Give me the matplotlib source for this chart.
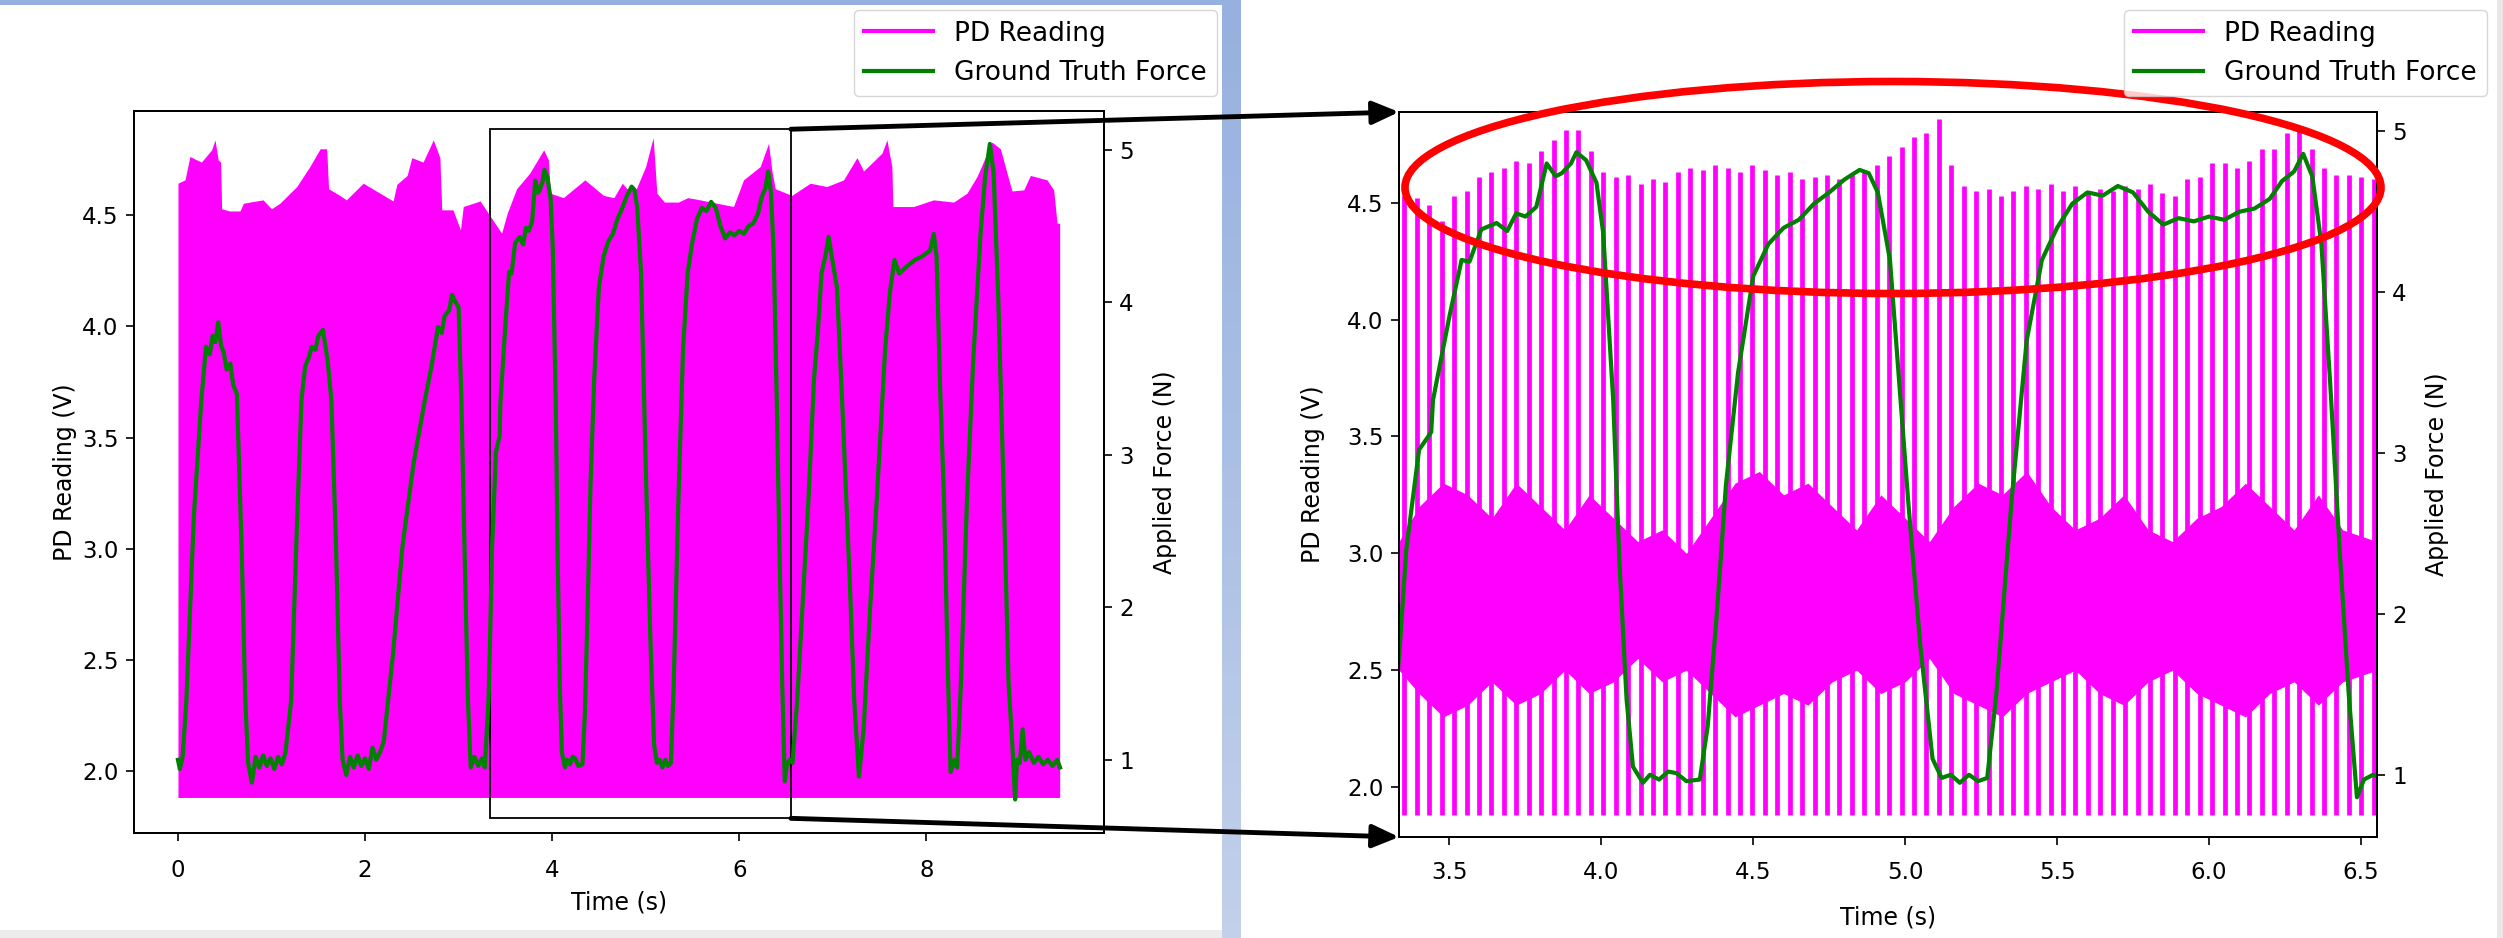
import numpy as np
import matplotlib.pyplot as plt
from matplotlib.patches import Rectangle, Ellipse, ConnectionPatch
from matplotlib.colors import LinearSegmentedColormap

W, H = 2503, 938
PINK = '#ff00ff'
GREEN = '#008000'

# ground truth force (N) vs time (s)
force_t = [0.00, 0.02, 0.05, 0.09, 0.17, 0.25, 0.30, 0.34, 0.37, 0.40, 0.43, 0.46, 0.49, 0.52,
           0.56, 0.59, 0.63, 0.68, 0.72, 0.75, 0.79, 0.83, 0.87, 0.91, 0.95, 0.99, 1.03, 1.07,
           1.11, 1.15, 1.21, 1.27, 1.32, 1.36, 1.40, 1.43, 1.47, 1.50, 1.55, 1.58, 1.60, 1.64,
           1.69, 1.73, 1.76, 1.80, 1.84, 1.88, 1.92, 1.96, 2.00, 2.04, 2.08, 2.12, 2.16, 2.20,
           2.30, 2.40, 2.52, 2.64, 2.71, 2.78, 2.82, 2.85, 2.90, 2.93, 2.97, 3.00, 3.03, 3.07,
           3.10, 3.13, 3.17, 3.21, 3.25, 3.28, 3.32, 3.336, 3.358, 3.40, 3.44, 3.446, 3.50, 3.54,
           3.566, 3.605, 3.655, 3.69, 3.72, 3.75, 3.786, 3.82, 3.85, 3.87, 3.90, 3.918, 3.95,
           3.984, 4.006, 4.039, 4.06, 4.083, 4.104, 4.137, 4.16, 4.19, 4.22, 4.247, 4.28, 4.324,
           4.35, 4.38, 4.41, 4.45, 4.50, 4.55, 4.60, 4.65, 4.70, 4.75, 4.80, 4.85, 4.88, 4.91,
           4.95, 5.01, 5.05, 5.09, 5.12, 5.15, 5.18, 5.21, 5.24, 5.27, 5.30, 5.35, 5.40, 5.45,
           5.50, 5.55, 5.60, 5.65, 5.70, 5.75, 5.80, 5.85, 5.90, 5.95, 6.00, 6.05, 6.10, 6.15,
           6.20, 6.24, 6.28, 6.31, 6.34, 6.37, 6.40, 6.43, 6.46, 6.487, 6.51, 6.54, 6.57, 6.62,
           6.74, 6.80, 6.84, 6.88, 6.92, 6.956, 6.99, 7.045, 7.10, 7.18, 7.23, 7.28, 7.33, 7.40,
           7.47, 7.56, 7.61, 7.66, 7.71, 7.78, 7.88, 7.95, 8.04, 8.08, 8.11, 8.15, 8.19, 8.23,
           8.26, 8.30, 8.33, 8.37, 8.435, 8.50, 8.58, 8.63, 8.68, 8.72, 8.77, 8.83, 8.88, 8.92,
           8.95, 8.97, 9.00, 9.03, 9.06, 9.10, 9.15, 9.20, 9.25, 9.30, 9.35, 9.40, 9.43]
force_n = [1.00, 0.94, 1.02, 1.39, 2.60, 3.36, 3.71, 3.66, 3.78, 3.74, 3.87, 3.72, 3.67, 3.56,
           3.60, 3.46, 3.40, 2.40, 1.39, 0.98, 0.85, 1.02, 0.95, 1.03, 0.96, 1.01, 0.94, 1.02,
           0.97, 1.05, 1.39, 2.50, 3.36, 3.58, 3.64, 3.71, 3.69, 3.78, 3.82, 3.70, 3.62, 3.36,
           2.40, 1.39, 1.00, 0.90, 1.02, 0.95, 1.03, 0.96, 1.01, 0.94, 1.08, 1.00, 1.05, 1.12,
           1.70, 2.40, 2.95, 3.36, 3.58, 3.84, 3.80, 3.91, 3.95, 4.05, 4.00, 3.97, 3.36, 2.20,
           1.39, 0.95, 1.02, 0.96, 1.01, 0.95, 1.39, 1.78, 2.40, 3.02, 3.13, 3.33, 3.85, 4.20,
           4.19, 4.39, 4.43, 4.38, 4.49, 4.47, 4.53, 4.80, 4.72, 4.74, 4.80, 4.87, 4.82,
           4.68, 4.37, 3.33, 2.30, 1.47, 1.05, 0.95, 1.00, 0.97, 1.02, 1.01, 0.96, 0.97,
           1.30, 2.00, 2.80, 3.50, 4.10, 4.30, 4.40, 4.45, 4.55, 4.62, 4.70, 4.76, 4.74, 4.62,
           4.20, 2.70, 1.80, 1.10, 0.98, 1.00, 0.95, 1.00, 0.96, 0.98, 1.50, 2.70, 3.70, 4.20,
           4.40, 4.55, 4.62, 4.60, 4.66, 4.62, 4.50, 4.42, 4.46, 4.44, 4.47, 4.45, 4.50, 4.52,
           4.58, 4.69, 4.75, 4.86, 4.72, 4.30, 3.40, 2.40, 1.50, 0.86, 0.97, 1.00, 0.98, 1.39,
           2.70, 3.50, 3.80, 4.19, 4.30, 4.43, 4.30, 4.10, 3.36, 2.20, 1.39, 0.89, 1.20, 2.00,
           2.70, 3.69, 4.06, 4.28, 4.19, 4.23, 4.28, 4.30, 4.34, 4.45, 4.30, 3.40, 2.70, 1.60,
           0.92, 1.00, 0.95, 1.50, 2.70, 3.60, 4.45, 4.83, 5.04, 4.85, 4.02, 2.70, 1.50, 1.10,
           0.74, 1.00, 0.98, 1.20, 1.00, 1.05, 0.98, 1.02, 0.97, 1.00, 0.96, 1.00, 0.95]

# PD reading, full run: upper envelope (V) of the dense trace
pd_env_t = [0.0, 0.075, 0.128, 0.25, 0.36, 0.396, 0.43, 0.456, 0.467, 0.55, 0.663, 0.70, 0.91,
            1.00, 1.09, 1.27, 1.41, 1.52, 1.59, 1.61, 1.73, 1.80, 1.98, 2.20, 2.30, 2.34, 2.45,
            2.50, 2.62, 2.73, 2.80, 2.82, 2.94, 3.02, 3.05, 3.23, 3.46, 3.52, 3.62, 3.76, 3.91,
            3.96, 3.98, 4.12, 4.35, 4.55, 4.66, 4.75, 4.80, 4.90, 5.00, 5.08, 5.12, 5.20, 5.35,
            5.45, 5.583, 5.939, 6.046, 6.225, 6.314, 6.350, 6.385, 6.563, 6.759, 6.937, 7.116,
            7.259, 7.330, 7.526, 7.579, 7.632, 7.643, 7.864, 8.078, 8.292, 8.435, 8.542, 8.702,
            8.792, 8.916, 9.042, 9.113, 9.291, 9.362, 9.398, 9.426]
pd_env_v = [4.645, 4.66, 4.765, 4.74, 4.795, 4.84, 4.75, 4.74, 4.53, 4.52, 4.52, 4.555, 4.57,
            4.53, 4.555, 4.63, 4.72, 4.80, 4.80, 4.62, 4.59, 4.57, 4.645, 4.59, 4.565, 4.64, 4.68,
            4.76, 4.74, 4.84, 4.76, 4.525, 4.525, 4.435, 4.54, 4.565, 4.42, 4.51, 4.62, 4.69, 4.795,
            4.75, 4.60, 4.58, 4.66, 4.59, 4.58, 4.645, 4.62, 4.62, 4.72, 4.85, 4.60, 4.56, 4.56,
            4.58, 4.57, 4.54, 4.66, 4.72, 4.825, 4.70, 4.62, 4.59, 4.645, 4.63, 4.66,
            4.76, 4.70, 4.78, 4.84, 4.72, 4.54, 4.54, 4.57, 4.56, 4.60, 4.675, 4.83,
            4.80, 4.61, 4.615, 4.68, 4.66, 4.615, 4.465, 4.465]
pd_floor = 1.88

# PD reading, zoomed window: one peak per modulation cycle
pd_cycle_start = 3.352
pd_cycle_period = 0.0409
pd_peaks = [4.53, 4.52, 4.49, 4.42, 4.53, 4.55, 4.61, 4.63, 4.65, 4.68, 4.67, 4.72, 4.77, 4.81,
            4.81, 4.72, 4.63, 4.61, 4.62, 4.58, 4.60, 4.59, 4.63, 4.65,
            4.64, 4.66, 4.65, 4.63, 4.66, 4.64, 4.62, 4.63, 4.60, 4.61, 4.62, 4.60, 4.62, 4.64,
            4.66, 4.70, 4.74, 4.78, 4.80, 4.86, 4.66, 4.57, 4.55, 4.56, 4.53, 4.55, 4.57, 4.56,
            4.58, 4.55, 4.57, 4.54, 4.56, 4.55, 4.57, 4.56, 4.58, 4.54,
            4.53, 4.60, 4.61, 4.67, 4.67, 4.65, 4.68, 4.73, 4.73, 4.80, 4.83, 4.73, 4.65, 4.62,
            4.62, 4.61, 4.60]
# dense middle band of the zoomed trace
pd_band_t = [3.334, 3.40, 3.48, 3.56, 3.64, 3.72, 3.80, 3.88, 3.96, 4.04, 4.12, 4.20, 4.28,
             4.36, 4.44, 4.52, 4.60, 4.68, 4.76, 4.84, 4.92, 5.00, 5.08, 5.16, 5.24, 5.32,
             5.40, 5.48, 5.56, 5.64, 5.72, 5.80, 5.88, 5.96, 6.04, 6.12, 6.20, 6.28, 6.36,
             6.44, 6.553]
pd_band_hi = [3.05, 3.20, 3.30, 3.25, 3.15, 3.30, 3.20, 3.10, 3.25, 3.15, 3.05, 3.10, 3.00,
              3.15, 3.30, 3.35, 3.25, 3.30, 3.20, 3.10, 3.25, 3.15, 3.05, 3.20, 3.30, 3.25,
              3.35, 3.20, 3.10, 3.15, 3.25, 3.10, 3.05, 3.15, 3.20, 3.30, 3.20, 3.10, 3.25,
              3.10, 3.05]
pd_band_lo = [2.50, 2.40, 2.30, 2.35, 2.45, 2.35, 2.40, 2.50, 2.40, 2.45, 2.55, 2.45, 2.50,
              2.40, 2.30, 2.35, 2.40, 2.35, 2.45, 2.50, 2.40, 2.45, 2.55, 2.40, 2.35, 2.30,
              2.40, 2.45, 2.50, 2.40, 2.35, 2.45, 2.50, 2.40, 2.35, 2.30, 2.40, 2.45, 2.35,
              2.45, 2.50]

zoom_t = (3.334, 6.553)
zoom_v = (1.786, 4.888)

plt.rcParams['font.family'] = 'DejaVu Sans'


def px_box(x0, y0, x1, y1):
    # pixel box (top-down) -> figure fraction rect
    return [x0 / W, 1 - y1 / H, (x1 - x0) / W, (y1 - y0) / H]


def style_axes(ax, xpad):
    ax.tick_params(labelsize=16.5, length=6, width=1.2)
    ax.tick_params(axis='y', pad=5)
    ax.tick_params(axis='x', pad=xpad)
    for s in ax.spines.values():
        s.set_linewidth(1.3)


fig = plt.figure(figsize=(W / 100, H / 100), dpi=100)

# overview panel
ax1 = fig.add_axes(px_box(134, 111, 1104, 833))
ax1b = ax1.twinx()
ax1.fill_between(pd_env_t, pd_floor, pd_env_v, color=PINK, lw=0)
ax1b.plot(force_t, force_n, color=GREEN, lw=3)
ax1.add_patch(Rectangle((zoom_t[0], zoom_v[0]), zoom_t[1] - zoom_t[0], zoom_v[1] - zoom_v[0],
                        fill=False, ec='black', lw=1.3, zorder=5))
ax1.set_xlim(-0.47, 9.90)
ax1.set_ylim(1.72, 4.97)
ax1b.set_ylim(0.52, 5.256)
ax1.set_xticks([0, 2, 4, 6, 8])
ax1.set_yticks([2.0, 2.5, 3.0, 3.5, 4.0, 4.5])
ax1b.set_yticks([1, 2, 3, 4, 5])
style_axes(ax1, 13)
style_axes(ax1b, 13)
ax1.set_xlabel('Time (s)', fontsize=17, labelpad=6)
ax1.set_ylabel('PD Reading (V)', fontsize=17)
ax1b.set_ylabel('Applied Force (N)', fontsize=17, labelpad=14)

# zoomed panel
ax2 = fig.add_axes(px_box(1399, 112, 2377, 837))
ax2b = ax2.twinx()
cycle_t = pd_cycle_start + pd_cycle_period * np.arange(len(pd_peaks))
ax2.fill_between(pd_band_t, pd_band_lo, pd_band_hi, color=PINK, lw=0)
ax2.vlines(cycle_t, pd_floor, pd_peaks, color=PINK, lw=3.4)
ax2b.plot(force_t, force_n, color=GREEN, lw=3)
ax2.set_xlim(zoom_t)
ax2.set_ylim(zoom_v)
ax2b.set_ylim(0.613, 5.12)
ax2.set_xticks([3.5, 4.0, 4.5, 5.0, 5.5, 6.0, 6.5])
ax2.set_yticks([2.0, 2.5, 3.0, 3.5, 4.0, 4.5])
ax2b.set_yticks([1, 2, 3, 4, 5])
style_axes(ax2, 11)
style_axes(ax2b, 11)
ax2.set_xlabel('Time (s)', fontsize=17, labelpad=16)
ax2.set_ylabel('PD Reading (V)', fontsize=17, labelpad=16)
ax2b.set_ylabel('Applied Force (N)', fontsize=17, labelpad=13)

# legends
for right_px in (1217, 2487):
    h_pd, = ax1.plot([], [], color=PINK, lw=3)
    h_f, = ax1.plot([], [], color=GREEN, lw=3)
    fig.legend([h_pd, h_f], ['PD Reading', 'Ground Truth Force'], loc='upper right',
               bbox_to_anchor=(right_px / W, 1 - 10 / H), fontsize=19, borderaxespad=0,
               handlelength=2.6)

# zoom arrows
for ya, yb in ((zoom_v[1], 1), (zoom_v[0], 0)):
    con = ConnectionPatch(xyA=(zoom_t[1], ya), coordsA=ax1.transData,
                          xyB=(0, yb), coordsB=ax2.transAxes,
                          arrowstyle='-|>,head_length=0.8,head_width=0.35',
                          mutation_scale=20, lw=3.5, color='black')
    fig.add_artist(con)

# red highlight ellipse
fig.add_artist(Ellipse((1893 / W, 1 - 187.5 / H), 976 / W, 212 / H, transform=fig.transFigure,
                       fill=False, ec='#ff0000', lw=5.5))

# slide decorations: blue frame around the left panel
blue = LinearSegmentedColormap.from_list('frame', ['#96b0df', '#c2d0ea'])
ax_bar = fig.add_axes(px_box(1222, 0, 1241, 938))
ax_bar.imshow(np.linspace(0, 1, 64)[:, None], aspect='auto', cmap=blue)
ax_bar.axis('off')
fig.add_artist(Rectangle((0, 1 - 5 / H), 1241 / W, 5 / H, transform=fig.transFigure,
                         color='#96b0df', lw=0))
fig.add_artist(Rectangle((0, 0), 1222 / W, 8 / H, transform=fig.transFigure,
                         color='#ececec', lw=0))
fig.add_artist(Rectangle((2497 / W, 0), 6 / W, 1, transform=fig.transFigure,
                         color='#e8e8e8', lw=0))

fig.savefig('out.png', dpi=100)
